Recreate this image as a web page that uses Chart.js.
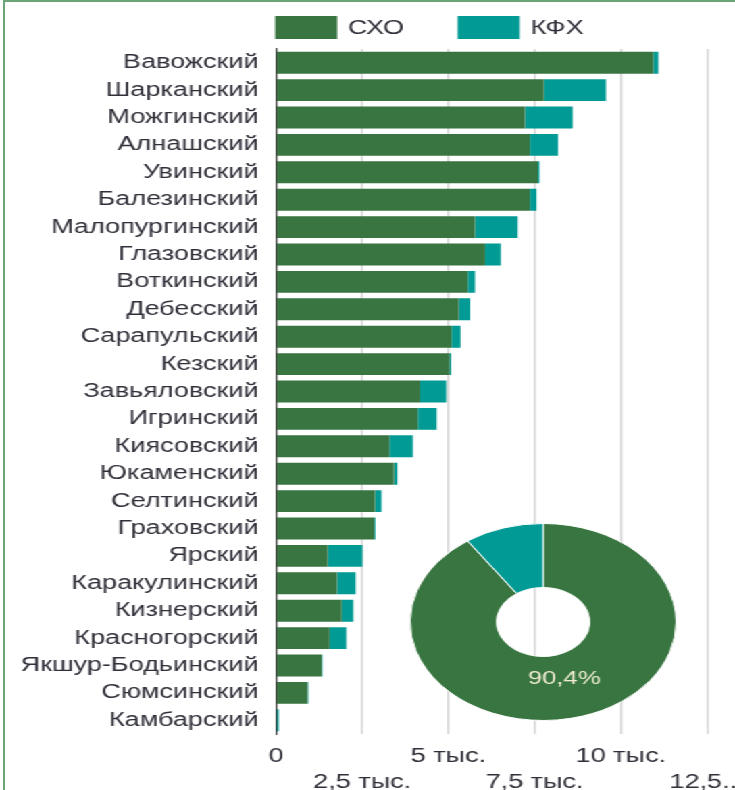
<!DOCTYPE html>
<html>
<head>
<meta charset="utf-8">
<script src="https://cdn.jsdelivr.net/npm/chart.js@4"></script>
<style>
  body { margin: 0; background: #fff; overflow: hidden; }
  #frame { position: absolute; left: 3px; top: 0; width: 760px; height: 820px;
           border-left: 2px solid #6aa477; border-top: 2px solid #6aa477; }
  /* the picture is stretched sideways, so the whole drawing is scaled in x */
  #wrap { position: absolute; left: 0; top: 0; width: 544px; height: 790px;
          transform: scaleX(1.3511); transform-origin: 0 0; }
  #bars { position: absolute; left: 0; top: 0; }
  #pie { position: absolute; left: 303px; top: 523px; }
</style>
</head>
<body>
<div id="frame"></div>
<div id="wrap">
  <canvas id="bars" width="544" height="790"></canvas>
  <canvas id="pie" width="198" height="198"></canvas>
</div>
<script>
let districts = ['Вавожский', 'Шарканский', 'Можгинский', 'Алнашский', 'Увинский', 'Балезинский',
  'Малопургинский', 'Глазовский', 'Воткинский', 'Дебесский', 'Сарапульский', 'Кезский',
  'Завьяловский', 'Игринский', 'Киясовский', 'Юкаменский', 'Селтинский', 'Граховский',
  'Ярский', 'Каракулинский', 'Кизнерский', 'Красногорский', 'Якшур-Бодьинский', 'Сюмсинский', 'Камбарский'];

let sxo = [10940, 7770, 7220, 7360, 7590, 7360, 5770, 6060, 5560, 5300, 5090, 5030,
  4180, 4110, 3290, 3420, 2870, 2850, 1500, 1770, 1900, 1550, 1320, 910, 0];

let kfx = [150, 1800, 1380, 820, 50, 195, 1240, 460, 210, 330, 260, 50,
  760, 550, 680, 100, 190, 30, 1010, 540, 340, 490, 20, 30, 80];

let seriesNames = ['СХО', 'КФХ'];
let tickLabels = ['0', '2,5 тыс.', '5 тыс.', '7,5 тыс.', '10 тыс.', '12,5...'];

let green = '#387540';
let teal = '#029a94';
let textColor = '#30303a';
let font = 'Liberation Sans, Arial, sans-serif';

// legend drawn by hand, starting at the left edge of the plot
let legendPlugin = {
  id: 'topLegend',
  afterDraw: (chart) => {
    let ctx = chart.ctx;
    let x = chart.chartArea.left - 0.7;
    ctx.save();
    ctx.font = '20px ' + font;
    ctx.textBaseline = 'middle';
    chart.data.datasets.forEach(ds => {
      ctx.fillStyle = ds.backgroundColor;
      ctx.fillRect(x, 16, 46, 23);
      ctx.fillStyle = textColor;
      ctx.fillText(ds.label, x + 54, 28.5);
      x += 54 + ctx.measureText(ds.label).width + 39.5;
    });
    ctx.restore();
  }
};

new Chart(document.getElementById('bars'), {
  type: 'bar',
  data: {
    labels: districts,
    datasets: [
      { label: seriesNames[0], data: sxo, backgroundColor: green },
      { label: seriesNames[1], data: kfx, backgroundColor: teal },
    ],
  },
  options: {
    indexAxis: 'y',
    responsive: false,
    animation: false,
    devicePixelRatio: 1,
    events: [],
    barPercentage: 0.8,
    categoryPercentage: 1,
    layout: { padding: { top: 49, right: 20.7, left: 0, bottom: 0 } },
    plugins: { legend: { display: false }, tooltip: { enabled: false } },
    scales: {
      x: {
        stacked: true,
        min: 0,
        max: 12500,
        border: { display: false },
        grid: { color: '#d6d6d6', lineWidth: 1.5, drawTicks: false },
        ticks: {
          stepSize: 2500,
          autoSkip: false,
          maxRotation: 0,
          padding: 9,
          color: textColor,
          font: { family: font, size: 20, lineHeight: 1.3 },
          callback: (v, i) => i % 2 ? ['', tickLabels[i]] : tickLabels[i],
        },
        afterFit: (scale) => {
          scale.height = 56;
          scale.paddingLeft = 0;
          scale.paddingRight = 0;
        },
      },
      y: {
        stacked: true,
        z: 1,
        border: { display: true, color: '#3b3b3b', width: 1.2 },
        grid: { display: false, drawTicks: false },
        ticks: {
          autoSkip: false,
          padding: 13,
          color: textColor,
          font: { family: font, size: 20 },
        },
        afterFit: (scale) => {
          scale.width = 204.3;
          scale.paddingTop = 0;
          scale.paddingBottom = 0;
        },
      },
    },
  },
  plugins: [legendPlugin],
});

let total = (arr) => arr.reduce((a, b) => a + b, 0);

// share label on the big slice
let shareLabel = {
  id: 'shareLabel',
  afterDatasetsDraw: (chart) => {
    let arc = chart.getDatasetMeta(0).data[0];
    let vals = chart.data.datasets[0].data;
    let share = (vals[0] / total(vals) * 100).toFixed(1).replace('.', ',') + '%';
    let mid = (arc.startAngle + arc.endAngle) / 2;
    let r = arc.innerRadius + (arc.outerRadius - arc.innerRadius) * 0.36;
    let ctx = chart.ctx;
    ctx.save();
    ctx.font = '19px ' + font;
    ctx.fillStyle = '#f1ecd4';
    ctx.textAlign = 'center';
    ctx.textBaseline = 'middle';
    ctx.fillText(share, arc.x + Math.cos(mid) * r - 1.5, arc.y + Math.sin(mid) * r + 1.5);
    ctx.restore();
  }
};

new Chart(document.getElementById('pie'), {
  type: 'doughnut',
  data: {
    labels: seriesNames,
    datasets: [{
      data: [total(sxo), total(kfx)],
      backgroundColor: [green, teal],
      borderColor: '#ffffff',
      borderWidth: 1,
    }],
  },
  options: {
    responsive: false,
    animation: false,
    devicePixelRatio: 1,
    events: [],
    cutout: '35%',
    plugins: { legend: { display: false }, tooltip: { enabled: false } },
  },
  plugins: [shareLabel],
});
</script>
</body>
</html>
